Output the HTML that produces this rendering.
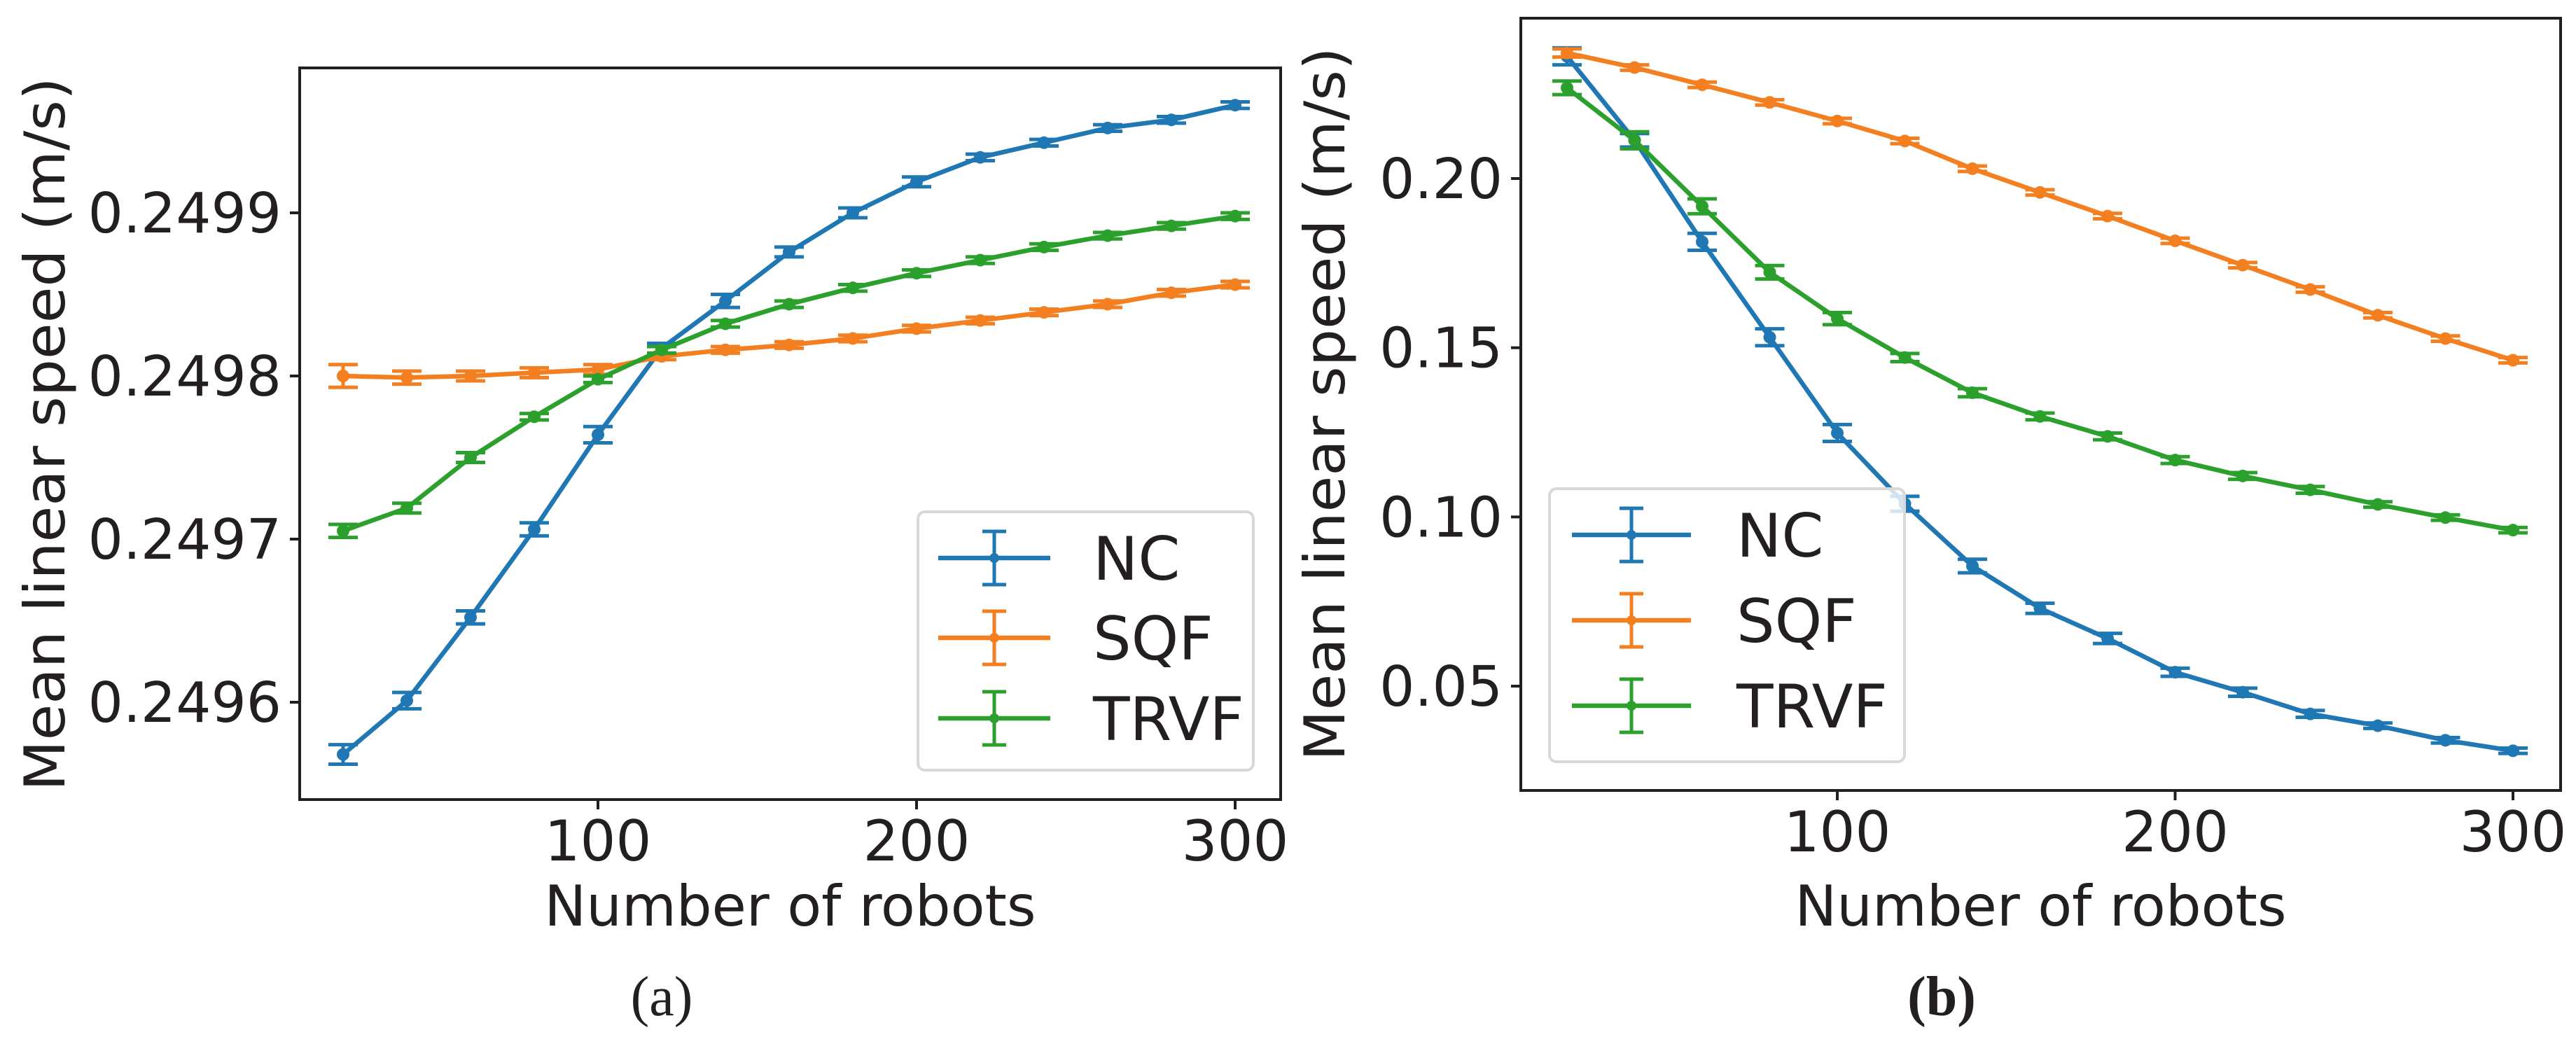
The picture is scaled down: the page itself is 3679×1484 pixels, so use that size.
<!DOCTYPE html>
<html><head><meta charset="utf-8">
<style>
html,body{margin:0;padding:0;background:#fff;}
svg{display:block;}
text{font-family:"DejaVu Sans","Liberation Sans",sans-serif;fill:#231f20;}
</style></head>
<body>
<svg id="fig" width="3679" height="1484" viewBox="0 0 3679 1484" xmlns="http://www.w3.org/2000/svg">
<rect x="0" y="0" width="3679" height="1484" fill="#fff"/>
<g id="pa"></g>
<g id="pb"></g>
<text x="945" y="1450" text-anchor="middle" style="font-family:'Liberation Serif',serif;font-size:80px;">(a)</text>
<text x="2773" y="1450" text-anchor="middle" style="font-family:'Liberation Serif',serif;font-size:80px;font-weight:bold;">(b)</text>
</svg>
<script>
// shared categories
const robots = [20,40,60,80,100,120,140,160,180,200,220,240,260,280,300];
const seriesNames = ["NC","SQF","TRVF"];
const seriesColors = ["#1f77b4","#f47f20","#2ca02c"];
// Chart (a)
const aNC   = [0.249568,0.249601,0.249652,0.249706,0.249764,0.249817,0.249846,0.249876,0.249900,0.249919,0.249934,0.249943,0.249952,0.249957,0.249966];
const aSQF  = [0.249800,0.249799,0.249800,0.249802,0.249804,0.249812,0.249816,0.249819,0.249823,0.249829,0.249834,0.249839,0.249844,0.249851,0.249856];
const aTRVF = [0.249705,0.249719,0.249750,0.249775,0.249798,0.249816,0.249832,0.249844,0.249854,0.249863,0.249871,0.249879,0.249886,0.249892,0.249898];
const aErrNC   = [0.000006,0.000005,0.000004,0.000004,0.000005,0.000003,0.000004,0.000003,0.000003,0.000003,0.000002,0.000002,0.000002,0.000002,0.000002];
const aErrSQF  = [0.000007,0.000004,0.000003,0.000003,0.000003,0.000002,0.000002,0.000002,0.000002,0.000002,0.000002,0.000002,0.000002,0.000002,0.000002];
const aErrTRVF = [0.000004,0.000003,0.000003,0.000002,0.000002,0.000002,0.000002,0.000002,0.000002,0.000002,0.000002,0.000002,0.000002,0.000002,0.000002];
const aYTicks = [0.2496,0.2497,0.2498,0.2499];
const aYTickLabels = ["0.2496","0.2497","0.2498","0.2499"];
// Chart (b)
const bNC   = [0.2361,0.2113,0.1813,0.1531,0.1248,0.1039,0.0855,0.0730,0.0641,0.0541,0.0482,0.0418,0.0383,0.0340,0.0309];
const bSQF  = [0.2371,0.2328,0.2277,0.2225,0.2170,0.2111,0.2029,0.1959,0.1889,0.1816,0.1744,0.1672,0.1596,0.1527,0.1463];
const bTRVF = [0.2268,0.2113,0.1918,0.1723,0.1586,0.1471,0.1367,0.1297,0.1238,0.1168,0.1121,0.1080,0.1037,0.0998,0.0961];
const bErrNC   = [0.0025,0.0020,0.0025,0.0025,0.0025,0.0022,0.0020,0.0015,0.0015,0.0012,0.0012,0.0010,0.0008,0.0008,0.0008];
const bErrSQF  = [0.0012,0.0008,0.0008,0.0008,0.0008,0.0008,0.0008,0.0008,0.0008,0.0008,0.0008,0.0008,0.0008,0.0008,0.0008];
const bErrTRVF = [0.0020,0.0025,0.0022,0.0020,0.0018,0.0012,0.0012,0.0010,0.0010,0.0010,0.0010,0.0010,0.0008,0.0008,0.0008];
const bYTicks = [0.05,0.10,0.15,0.20];
const bYTickLabels = ["0.05","0.10","0.15","0.20"];
const xTicks = [100,200,300];
const xTickLabels = ["100","200","300"];

const NS="http://www.w3.org/2000/svg";
function mk(parent,tag,attrs){const e=document.createElementNS(NS,tag);for(const k in attrs)e.setAttribute(k,attrs[k]);parent.appendChild(e);return e;}

function drawChart(g, cfg){
  const xs = v => cfg.x0px + (v - cfg.x0v)*(cfg.x1px-cfg.x0px)/(cfg.x1v-cfg.x0v);
  const ys = v => cfg.y0px + (v - cfg.y0v)*(cfg.y1px-cfg.y0px)/(cfg.y1v-cfg.y0v);
  cfg.yTicks.forEach((t,i)=>{
    const y=ys(t);
    const tk=mk(g,'line',{x1:cfg.L-14,x2:cfg.L,y1:y,y2:y,stroke:'#231f20','stroke-width':4});
    
    
    const tl=mk(g,'text',{x:cfg.L-26,y:y+28,'text-anchor':'end','font-size':79});
    
    
    tl.textContent=cfg.yTickLabels[i];
  });
  xTicks.forEach((t,i)=>{
    const x=xs(t);
    const tk=mk(g,'line',{x1:x,x2:x,y1:cfg.B,y2:cfg.B+14,stroke:'#231f20','stroke-width':4});
    
    
    const tl=mk(g,'text',{x:x,y:cfg.B+87,'text-anchor':'middle','font-size':80});
    
    
    tl.textContent=xTickLabels[i];
  });
  cfg.series.forEach((s,si)=>{
    const sg=mk(g,'g',{});
    
    
    const col=seriesColors[si];
    const pts=robots.map((r,i)=>xs(r).toFixed(1)+','+ys(s[i]).toFixed(1)).join(' ');
    const pl=mk(sg,'polyline',{points:pts,fill:'none',stroke:col,'stroke-width':6.5,'stroke-linejoin':'round'});
    
    
    robots.forEach((r,i)=>{
      const x=xs(r), y=ys(s[i]), e=cfg.errs[si][i];
      const yt=ys(s[i]+e), yb=ys(s[i]-e);
      const eb=mk(sg,'path',{d:`M${x},${yt}V${yb}M${x-21},${yt}H${x+21}M${x-21},${yb}H${x+21}`,stroke:col,'stroke-width':5,fill:'none'});
      
      
      const c=mk(sg,'circle',{cx:x,cy:y,r:9,fill:col});
      
      
    });
  });
  const fr=mk(g,'rect',{x:cfg.L,y:cfg.T,width:cfg.R-cfg.L,height:cfg.B-cfg.T,fill:'none',stroke:'#231f20','stroke-width':4});
  
  
  const xt=mk(g,'text',{x:(cfg.L+cfg.R)/2,y:1322,'text-anchor':'middle','font-size':80});
  
  
  xt.textContent='Number of robots';
  const yt=mk(g,'text',{x:0,y:0,'text-anchor':'middle','font-size':80,transform:`translate(${cfg.ytx},${cfg.yty}) rotate(-90) scale(1.05,1)`});
  
  
  yt.textContent='Mean linear speed (m/s)';
  const lg=mk(g,'g',{});
  
  
  const lb=mk(lg,'rect',{x:cfg.lg.x,y:cfg.lg.y,width:cfg.lg.w,height:cfg.lg.h,rx:10,fill:'#fff','fill-opacity':0.8,stroke:'#d8d8d8','stroke-width':4});
  
  
  seriesNames.forEach((n,i)=>{
    const y=cfg.lg.ey[i], col=seriesColors[i];
    const eg=mk(lg,'g',{});
    
    
    mk(eg,'line',{x1:cfg.lg.lx0,x2:cfg.lg.lx1,y1:y,y2:y,stroke:col,'stroke-width':6.5});
    const mx=(cfg.lg.lx0+cfg.lg.lx1)/2;
    mk(eg,'path',{d:`M${mx},${y-38}V${y+38}M${mx-17},${y-38}H${mx+17}M${mx-17},${y+38}H${mx+17}`,stroke:col,'stroke-width':5,fill:'none'});
    mk(eg,'circle',{cx:mx,cy:y,r:7,fill:col});
    const t=mk(eg,'text',{x:cfg.lg.tx,y:y+31,'font-size':86});
    t.textContent=n;
  });
}

drawChart(document.getElementById('pa'),{
  L:428,R:1829,T:97,B:1142,
  x0v:100,x1v:300,x0px:854,x1px:1764,
  y0v:0.2496,y1v:0.2499,y0px:1003,y1px:304,
  yTicks:aYTicks,yTickLabels:aYTickLabels,
  series:[aNC,aSQF,aTRVF],errs:[aErrNC,aErrSQF,aErrTRVF],
  ytx:92,yty:620,
  lg:{x:1311,y:731,w:479,h:369,ey:[797,911,1026],lx0:1340,lx1:1500,tx:1561}
});
drawChart(document.getElementById('pb'),{
  L:2172,R:3657,T:26,B:1129,
  x0v:100,x1v:300,x0px:2624,x1px:3589,
  y0v:0.05,y1v:0.20,y0px:980,y1px:255,
  yTicks:bYTicks,yTickLabels:bYTickLabels,
  series:[bNC,bSQF,bTRVF],errs:[bErrNC,bErrSQF,bErrTRVF],
  ytx:1920,yty:577,
  lg:{x:2213,y:698,w:507,h:390,ey:[764,886,1008],lx0:2245,lx1:2415,tx:2480}
});
</script>
</body></html>
